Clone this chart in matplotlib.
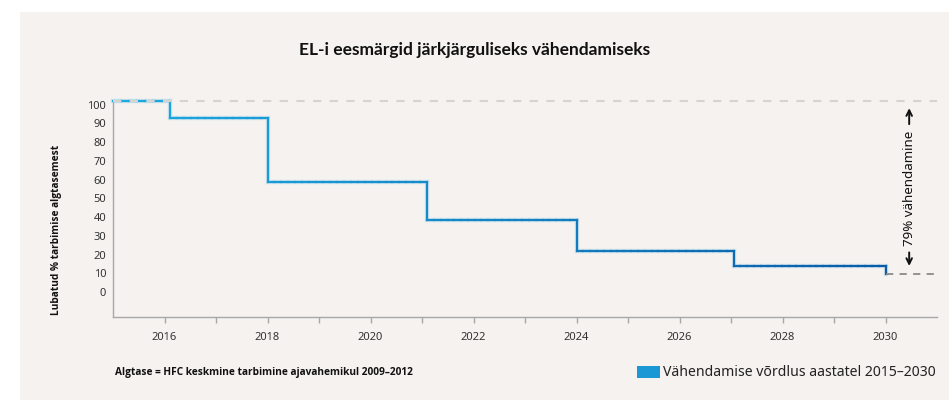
import matplotlib
matplotlib.use("Agg")
import matplotlib.pyplot as plt
import matplotlib.transforms as mtransforms
from matplotlib.collections import LineCollection
from matplotlib.colors import to_rgb
from matplotlib.patches import Rectangle
import numpy as np

# data
step_years = [2015, 2016.1, 2018, 2021.1, 2024, 2027.05, 2030]
step_levels = [100, 91, 56.5, 36.5, 20, 11.5, 7.5]
baseline = 100
x_ticks = [2016, 2018, 2020, 2022, 2024, 2026, 2028, 2030]
y_ticks = [0, 10, 20, 30, 40, 50, 60, 70, 80, 90, 100]

title = "EL-i eesmärgid järkjärguliseks vähendamiseks"
ylabel = "Lubatud % tarbimise algtasemest"
note = "Algtase = HFC keskmine tarbimine ajavahemikul 2009\u20132012"
legend_label = "Vähendamise võrdlus aastatel 2015\u20132030"
reduction_label = "79% vähendamine"

bg = "#f5f2ef"
c_left = np.array(to_rgb("#1cabe2"))
c_right = np.array(to_rgb("#0b5ba6"))

plt.rcParams['font.family'] = ['Noto Sans', 'DejaVu Sans']
bold_font = ['Open Sans', 'DejaVu Sans']

fig = plt.figure(figsize=(9.49, 4.0), dpi=100)
fig.patch.set_facecolor("white")
fig.patches.append(Rectangle((20 / 949, 0), 1 - 20 / 949, 1 - 12 / 400,
                             transform=fig.transFigure, facecolor=bg,
                             edgecolor="none", zorder=-10))

ax = fig.add_axes([113 / 949, 1 - 316.7 / 400, (937 - 113) / 949, (316.7 - 100.7) / 400])
ax.set_facecolor("none")
ax.set_xlim(2015, 2031)
ax.set_ylim(-15.3, 100)

# step line with a left-to-right colour gradient
verts = []
for i in range(len(step_years) - 1):
    verts.append((step_years[i], step_levels[i]))
    verts.append((step_years[i + 1], step_levels[i]))
    verts.append((step_years[i + 1], step_levels[i + 1]))
segs = []
cols = []
x0, x1 = step_years[0], step_years[-1]
for a, b in zip(verts[:-1], verts[1:]):
    if a == b:
        continue
    n = max(2, int(abs(b[0] - a[0]) * 8))
    xs = np.linspace(a[0], b[0], n)
    ys = np.linspace(a[1], b[1], n)
    for j in range(n - 1):
        segs.append([(xs[j], ys[j]), (xs[j + 1], ys[j + 1])])
        t = ((xs[j] + xs[j + 1]) / 2 - x0) / (x1 - x0)
        cols.append(tuple(c_left * (1 - t) + c_right * t))
vx = [v[0] for v in verts]
vy = [v[1] for v in verts]
ax.plot(vx, vy, color="#8fcbea", lw=3.2, alpha=0.35, solid_joinstyle="miter",
        clip_on=False, zorder=2)
lc = LineCollection(segs, colors=cols, linewidths=1.6, capstyle="projecting",
                    joinstyle="miter", zorder=3, clip_on=False)
ax.add_collection(lc)

# baseline and end level dashed lines
ax.plot([2015, 2031], [baseline, baseline], color="#d6d3d0", lw=1.5,
        linestyle=(0, (4, 4)), clip_on=False, zorder=4)
ax.plot([2030, 2031], [step_levels[-1], step_levels[-1]], color="#8a8a8a", lw=1.3,
        linestyle=(0, (4, 3.5)), clip_on=False, zorder=4)

# reduction annotation
ax.text(2030.46, 53, reduction_label, rotation=90, ha="center", va="center",
        fontsize=9.6, color="#111111")
ax.annotate("", xy=(2030.46, 97.5), xytext=(2030.46, 86),
            arrowprops=dict(arrowstyle="->", color="#111111", lw=1.4))
ax.annotate("", xy=(2030.46, 10.3), xytext=(2030.46, 20.5),
            arrowprops=dict(arrowstyle="->", color="#111111", lw=1.4))

# axes styling
for s in ["top", "right"]:
    ax.spines[s].set_visible(False)
for s in ["left", "bottom"]:
    ax.spines[s].set_color("#a8a8a8")
    ax.spines[s].set_linewidth(1.0)

ax.set_xticks(x_ticks)
ax.set_xticklabels([str(x) for x in x_ticks])
ax.set_xticks([x + 1 for x in x_ticks[:-1]], minor=True)
ax.tick_params(axis="x", which="both", length=4, color="#a8a8a8", width=1,
               labelsize=8, labelcolor="#333333", pad=7)
ax.set_yticks(y_ticks)
ax.set_yticklabels([str(y) for y in y_ticks])
ax.tick_params(axis="y", length=0, labelsize=8, labelcolor="#333333", pad=5)
off = mtransforms.ScaledTranslation(0, -4 / 100, fig.dpi_scale_trans)
for lab in ax.get_yticklabels():
    lab.set_transform(lab.get_transform() + off)

# texts
fig.text(0.5, 1 - 50 / 400, title, ha="center", va="center", fontsize=12.5,
         fontweight="bold", color="#111111", family=["Lato", "DejaVu Sans"])
fig.text(57 / 949, 1 - 230 / 400, ylabel, rotation=90, ha="center", va="center",
         fontsize=7.3, fontweight="bold", color="#111111", family=bold_font)
fig.text(115 / 949, 1 - 372 / 400, note, ha="left", va="center", fontsize=7.3,
         fontweight="bold", color="#111111", family=bold_font)

# legend
fig.patches.append(Rectangle((637 / 949, 1 - 378 / 400), 23 / 949, 12 / 400,
                             transform=fig.transFigure, facecolor="#1a98d5",
                             edgecolor="none"))
fig.text(663 / 949, 1 - 372 / 400, legend_label, ha="left", va="center",
         fontsize=10.1, color="#222222")

fig.savefig("out.png", dpi=100, facecolor=fig.get_facecolor())
